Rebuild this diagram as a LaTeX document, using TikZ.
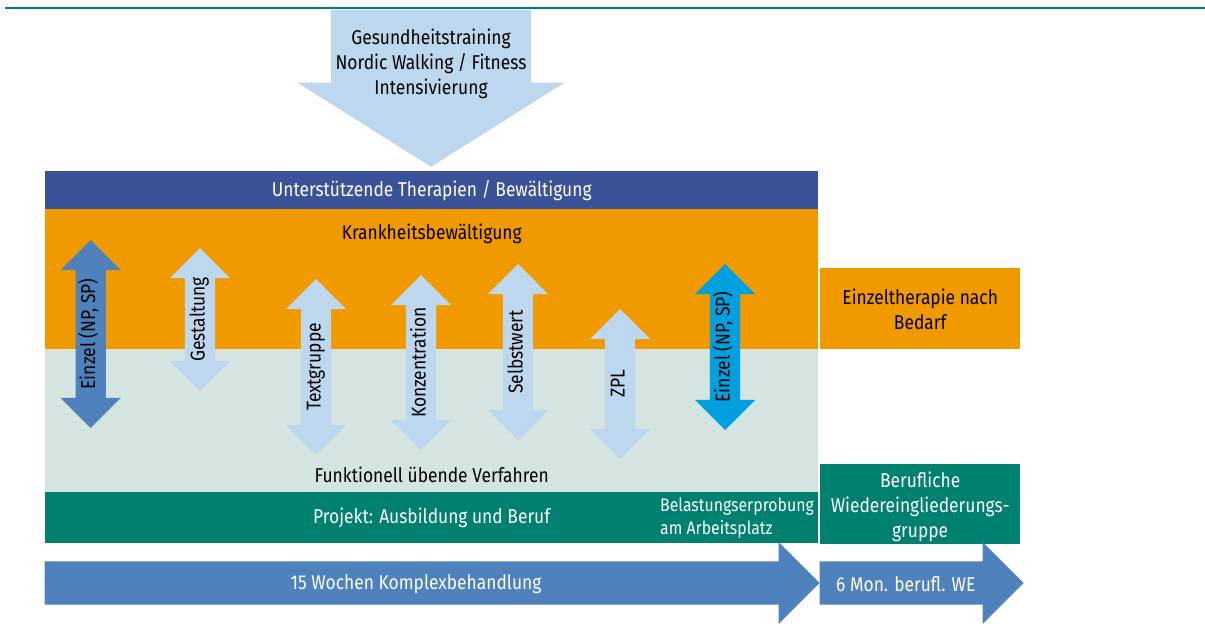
\documentclass[tikz,border=0pt]{standalone}
\usepackage{fontspec}
\setmainfont{Fira Sans}[FakeStretch=0.87]
\usetikzlibrary{shapes.arrows}
\definecolor{bandblue}{HTML}{3B5299}
\definecolor{bandorange}{HTML}{F09A00}
\definecolor{bandgrey}{HTML}{D4E4E1}
\definecolor{bandteal}{HTML}{00806E}
\definecolor{arrowblue}{HTML}{4F81BD}
\definecolor{arrowlight}{HTML}{BDD7EE}
\definecolor{arrowcyan}{HTML}{009FDF}

\begin{document}
\begin{tikzpicture}[x=1pt,y=-1pt,
  every node/.style={font=\fontsize{20}{25}\selectfont, inner sep=0pt},
  band/.style={rectangle, minimum width=773pt, anchor=north west},
  sidebox/.style={rectangle, minimum width=200pt, anchor=north west},
  vpfeil/.style={double arrow, rotate=90, text height=13pt, text depth=4pt, inner ysep=6.5pt, double arrow head extend=15pt, minimum width=60pt},
  hpfeil/.style={single arrow, fill=arrowblue, inner ysep=21.5pt, single arrow head extend=19.5pt, minimum width=82pt, anchor=tip}]
\useasboundingbox (0,0) rectangle (1205,627);
\draw [bandteal, line width=2pt] (5,8) -- (1205,8);
\node [single arrow, rotate=-90, fill=arrowlight, inner ysep=100pt, single arrow head extend=33.5pt, single arrow tip angle=115.6, minimum width=267pt, minimum height=157pt, anchor=tip] (training) at (431,167) {};
\node [align=center] (trainingtext) at (431,64) {Gesundheitstraining\\Nordic Walking / Fitness\\Intensivierung};
\node [band, fill=bandblue, minimum height=38pt, text=white] (stuetz) at (45,171) {Unterstützende Therapien / Bewältigung};
\node [band, fill=bandorange, minimum height=140pt] (krank) at (45,209) {};
\node [band, fill=bandgrey, minimum height=143pt] (funkt) at (45,349) {};
\node [band, fill=bandteal, minimum height=51pt, text=white] (projekt) at (45,492) {Projekt: Ausbildung und Beruf};
\node (kranktext) at ([yshift=-25pt]krank.north) {Krankheitsbewältigung};
\node (funkttext) at ([yshift=18pt]funkt.south) {Funktionell übende Verfahren};
\node [align=left, anchor=west, text=white, font=\fontsize{18.2}{23}\selectfont] (belastung) at (660,518) {Belastungserprobung\\am Arbeitsplatz};
\node [sidebox, fill=bandorange, minimum height=81pt] (einzeltherapie) at (820,268) {};
\node [align=center] (einzeltext) at ([yshift=-1pt]einzeltherapie.center) {Einzeltherapie nach\\Bedarf};
\node [sidebox, fill=bandteal, minimum height=80pt] (wiedereingl) at (820,464) {};
\node [align=center, text=white] (wiedertext) at ([yshift=-3pt]wiedereingl.center) {Berufliche\\Wiedereingliederungs-\\gruppe};
\node [vpfeil, fill=arrowblue, minimum height=188pt] (einzelnp) at (90.7,334) {Einzel (NP, SP)};
\node [vpfeil, fill=arrowlight, minimum height=143pt] (gestaltung) at (200,319.5) {Gestaltung};
\node [vpfeil, fill=arrowlight, minimum height=176pt] (textgruppe) at (316,367) {Textgruppe};
\node [vpfeil, fill=arrowlight, minimum height=175pt] (konzentration) at (421,362.5) {Konzentration};
\node [vpfeil, fill=arrowlight, minimum height=176pt] (selbstwert) at (518,352) {Selbstwert};
\node [vpfeil, fill=arrowlight, minimum height=150pt] (zpl) at (620,384) {ZPL};
\node [vpfeil, fill=arrowcyan, minimum height=166pt] (einzelsp) at (725,347) {Einzel (NP, SP)};
\node [hpfeil, minimum height=775pt] (komplex) at (820,583) {};
\node [text=white] (komplextext) at (416,584) {15 Wochen Komplexbehandlung};
\node [hpfeil, minimum height=204pt] (berufl) at (1024,583) {};
\node [anchor=west, text=white] (berufltext) at (836,584) {6 Mon. berufl. WE};
\end{tikzpicture}
\end{document}
